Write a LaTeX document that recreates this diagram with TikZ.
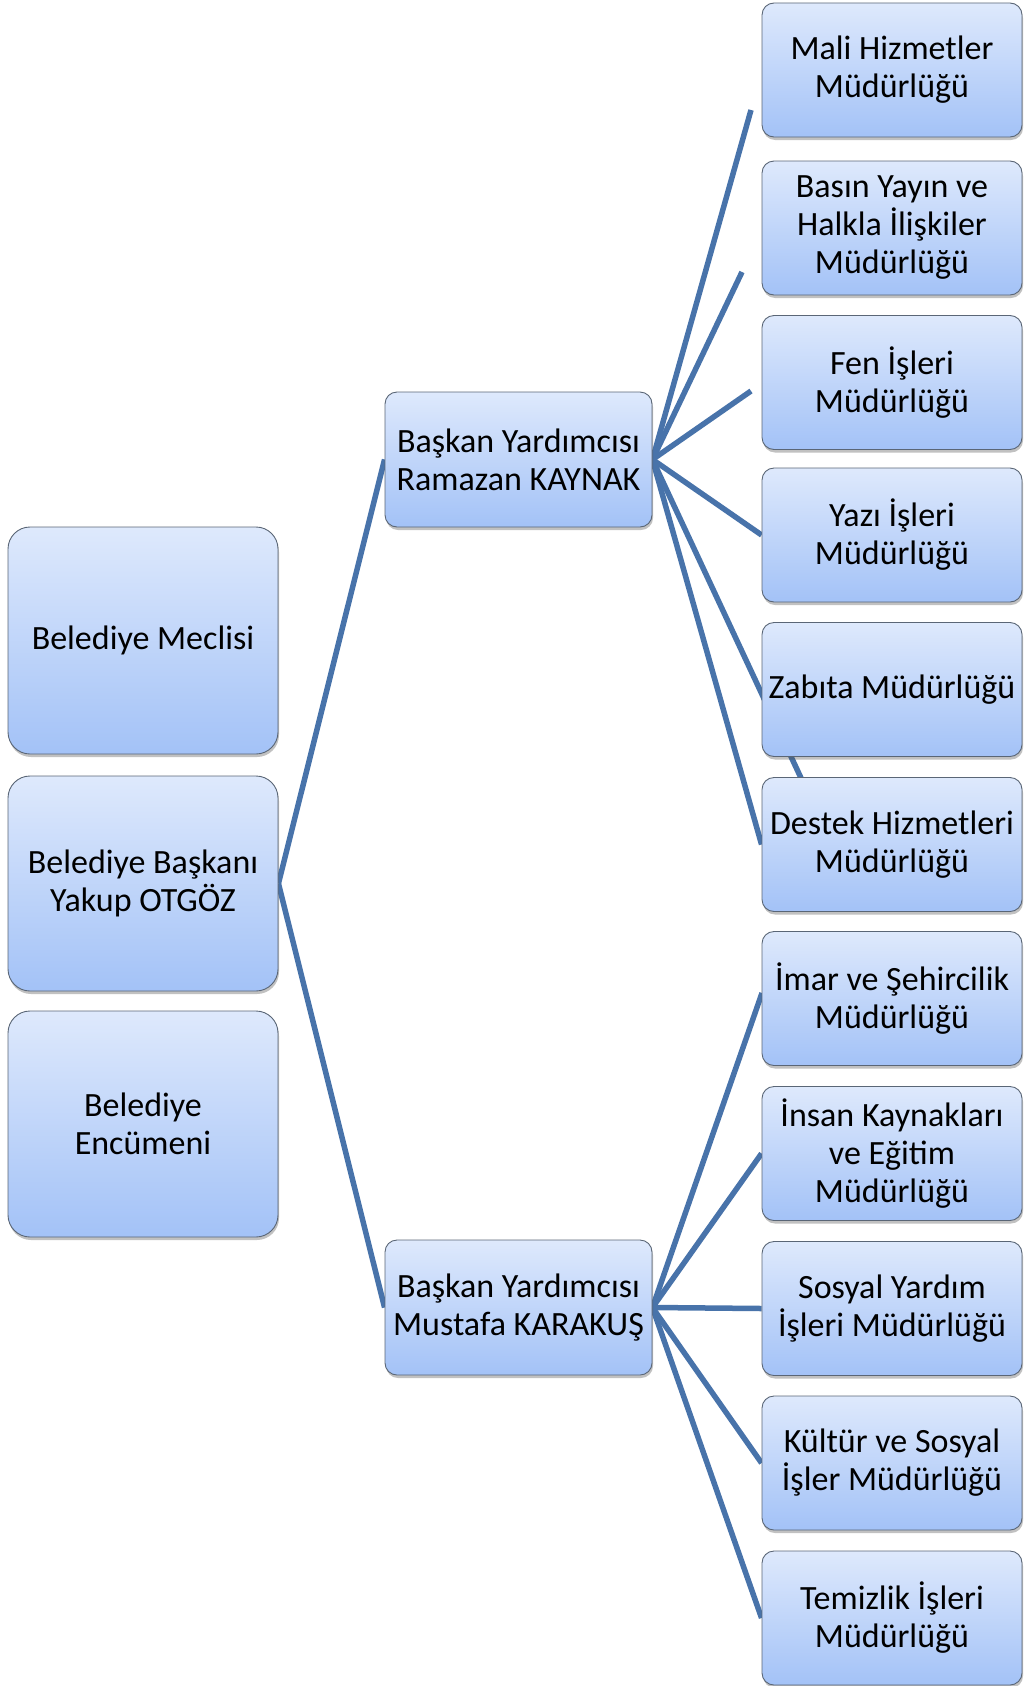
\documentclass[tikz,border=0pt]{standalone}
\usepackage{fontspec}
\setmainfont{Carlito}
\usetikzlibrary{shadows}
\pgfdeclarelayer{background}
\pgfsetlayers{background,main}
\definecolor{boxtop}{RGB}{222,233,252}
\definecolor{boxbot}{RGB}{163,194,247}
\definecolor{boxborder}{RGB}{90,102,118}
\definecolor{linkblue}{RGB}{72,115,170}
\begin{document}
\begin{tikzpicture}[x=1pt,y=-1pt,
  box/.style={draw=boxborder, line width=0.9pt, top color=boxtop, bottom color=boxbot,
    inner sep=0pt, align=center, font=\fontsize{34}{38}\selectfont,
    drop shadow={shadow xshift=1pt, shadow yshift=-3pt, opacity=0.35, fill=black!70}},
  leftbox/.style={box, rounded corners=22pt, minimum width=270pt},
  midbox/.style={box, rounded corners=12pt, minimum width=267pt, minimum height=135pt},
  unitbox/.style={box, rounded corners=12pt, minimum width=260pt, minimum height=134pt},
  link/.style={draw=linkblue, line width=5.5pt}
]
\useasboundingbox (0,0) rectangle (1024,1686);

% left column
\node[leftbox, minimum height=227pt] (meclis) at (143,640.5) {Belediye Meclisi};
\node[leftbox, minimum height=215pt] (baskan) at (143,883.5) {Belediye Başkanı\\Yakup OTGÖZ};
\node[leftbox, minimum height=226pt] (encumen) at (143,1124) {Belediye\\Encümeni};

% middle column
\node[midbox] (ramazan) at (518.5,459.5) {Başkan Yardımcısı\\Ramazan KAYNAK};
\node[midbox] (mustafa) at (518.5,1307.5) {Başkan Yardımcısı\\Mustafa KARAKUŞ};

% right column
\node[unitbox] (mali) at (892,70) {Mali Hizmetler\\Müdürlüğü};
\node[unitbox] (basin) at (892,228) {Basın Yayın ve\\Halkla İlişkiler\\Müdürlüğü};
\node[unitbox] (fen) at (892,382.5) {Fen İşleri\\Müdürlüğü};
\node[unitbox] (yazi) at (892,535) {Yazı İşleri\\Müdürlüğü};
\node[unitbox] (zabita) at (892,689.5) {Zabıta Müdürlüğü};
\node[unitbox] (destek) at (892,844.5) {Destek Hizmetleri\\Müdürlüğü};
\node[unitbox] (imar) at (892,998.5) {İmar ve Şehircilik\\Müdürlüğü};
\node[unitbox] (insan) at (892,1153.5) {İnsan Kaynakları\\ve Eğitim\\Müdürlüğü};
\node[unitbox] (sosyal) at (892,1308.5) {Sosyal Yardım\\İşleri Müdürlüğü};
\node[unitbox] (kultur) at (892,1463) {Kültür ve Sosyal\\İşler Müdürlüğü};
\node[unitbox] (temizlik) at (892,1618) {Temizlik İşleri\\Müdürlüğü};

% free ends of the short connectors
\coordinate (maliend) at (751,110);
\coordinate (basinend) at (742,272);
\coordinate (fenend) at (751,391);
\coordinate (zabitaend) at (815,808);
\coordinate (imarend) at (762,993);

\begin{pgfonlayer}{background}
\draw[link] (baskan.east) -- (ramazan.west);
\draw[link] (baskan.east) -- (mustafa.west);
\draw[link] (ramazan.east) -- (maliend);
\draw[link] (ramazan.east) -- (basinend);
\draw[link] (ramazan.east) -- (fenend);
\draw[link] (ramazan.east) -- (yazi.west);
\draw[link] (ramazan.east) -- (zabitaend);
\draw[link] (ramazan.east) -- (destek.west);
\draw[link] (mustafa.east) -- (imarend);
\draw[link] (mustafa.east) -- (insan.west);
\draw[link] (mustafa.east) -- (sosyal.west);
\draw[link] (mustafa.east) -- (kultur.west);
\draw[link] (mustafa.east) -- (temizlik.west);
\end{pgfonlayer}
\end{tikzpicture}
\end{document}
